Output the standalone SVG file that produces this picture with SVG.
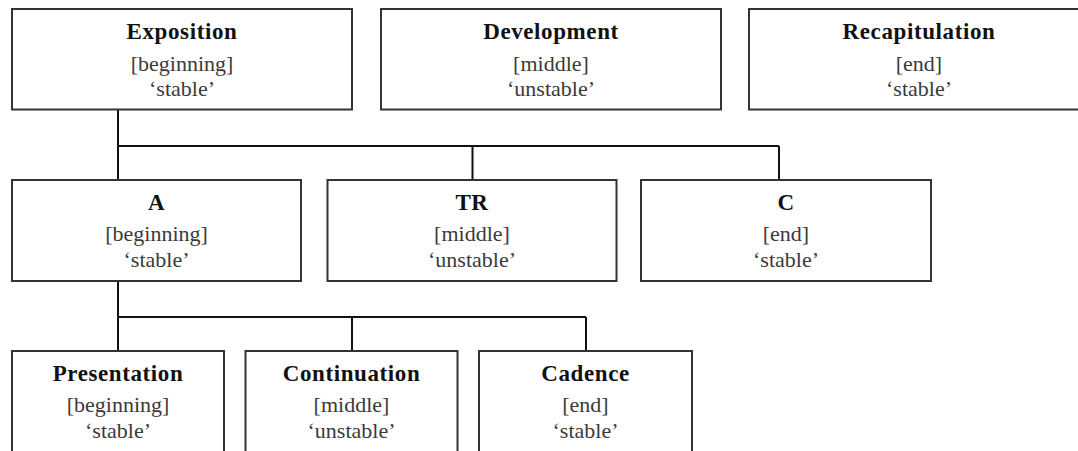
<svg xmlns="http://www.w3.org/2000/svg" width="1078" height="451" viewBox="0 0 1078 451">
<style>
.box{fill:#fff;stroke:#333;stroke-width:2}
.conn{fill:none;stroke:#111;stroke-width:2}
.t{font-family:"Liberation Serif","Times New Roman",serif;text-anchor:middle}
.h{font-size:23px;font-weight:bold;fill:#111;letter-spacing:0.6px}
.r{font-size:22px;fill:#3a3a3a}
</style>
<rect width="1078" height="451" fill="#fff"/>
<g id="connectors">
<path class="conn" d="M118,110 V180 M118,146 H779 M472.5,146 V180 M779,146 V180"/>
<path class="conn" d="M118,281 V351 M118,317 H586 M352,317 V351 M586,317 V351"/>
</g>
<g id="exposition">
<rect class="box" x="12" y="9" width="340" height="100.5"/>
<text class="t h" x="182" y="38.5">Exposition</text>
<text class="t r" x="182" y="71">[beginning]</text>
<text class="t r" x="182" y="96">‘stable’</text>
</g>
<g id="development">
<rect class="box" x="381" y="9" width="340" height="100.5"/>
<text class="t h" x="551" y="38.5">Development</text>
<text class="t r" x="551" y="71">[middle]</text>
<text class="t r" x="551" y="96">‘unstable’</text>
</g>
<g id="recapitulation">
<rect class="box" x="749" y="9" width="340" height="100.5"/>
<text class="t h" x="919" y="38.5">Recapitulation</text>
<text class="t r" x="919" y="71">[end]</text>
<text class="t r" x="919" y="96">‘stable’</text>
</g>
<g id="a">
<rect class="box" x="12" y="180" width="289" height="101"/>
<text class="t h" x="156.5" y="209.5">A</text>
<text class="t r" x="156.5" y="241">[beginning]</text>
<text class="t r" x="156.5" y="266.5">‘stable’</text>
</g>
<g id="tr">
<rect class="box" x="327.5" y="180" width="289" height="101"/>
<text class="t h" x="472" y="209.5">TR</text>
<text class="t r" x="472" y="241">[middle]</text>
<text class="t r" x="472" y="266.5">‘unstable’</text>
</g>
<g id="c">
<rect class="box" x="641" y="180" width="290" height="101"/>
<text class="t h" x="786" y="209.5">C</text>
<text class="t r" x="786" y="241">[end]</text>
<text class="t r" x="786" y="266.5">‘stable’</text>
</g>
<g id="presentation">
<rect class="box" x="12" y="351" width="212" height="110"/>
<text class="t h" x="118" y="380.5">Presentation</text>
<text class="t r" x="118" y="412">[beginning]</text>
<text class="t r" x="118" y="438">‘stable’</text>
</g>
<g id="continuation">
<rect class="box" x="245.5" y="351" width="212" height="110"/>
<text class="t h" x="351.5" y="380.5">Continuation</text>
<text class="t r" x="351.5" y="412">[middle]</text>
<text class="t r" x="351.5" y="438">‘unstable’</text>
</g>
<g id="cadence">
<rect class="box" x="479" y="351" width="213" height="110"/>
<text class="t h" x="585.5" y="380.5">Cadence</text>
<text class="t r" x="585.5" y="412">[end]</text>
<text class="t r" x="585.5" y="438">‘stable’</text>
</g>
</svg>
